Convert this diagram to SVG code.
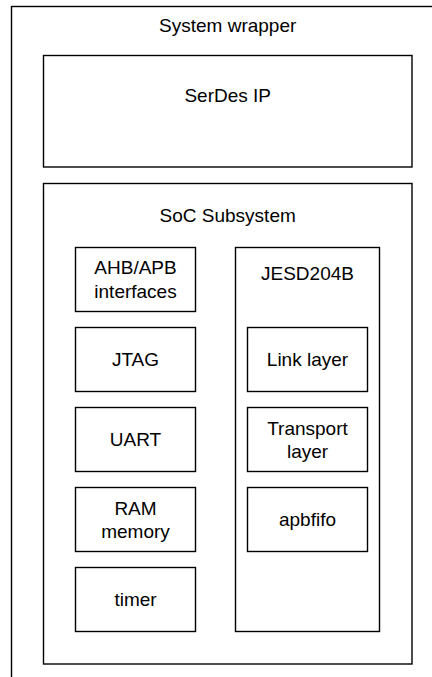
<svg xmlns="http://www.w3.org/2000/svg" width="432" height="677" viewBox="0 0 432 677">
  <style>
    .box { fill: #ffffff; stroke: #000000; stroke-width: 1.4; }
    .lbl { font-family: "Liberation Sans", Arial, sans-serif; font-size: 19px; fill: #000000; text-anchor: middle; }
  </style>
  <rect width="432" height="677" fill="#ffffff"/>

  <!-- outer container, runs off the right and bottom edges -->
  <g id="system-wrapper">
    <rect class="box" x="11.5" y="6.5" width="433" height="720"/>
    <text class="lbl" x="227.7" y="32">System wrapper</text>
  </g>

  <g id="serdes-ip">
    <rect class="box" x="43.5" y="55.5" width="368.5" height="111.5"/>
    <text class="lbl" x="227.7" y="101.5">SerDes IP</text>
  </g>

  <g id="soc-subsystem">
    <rect class="box" x="43.5" y="183.5" width="368.5" height="480.5"/>
    <text class="lbl" x="227.7" y="221.5">SoC Subsystem</text>
  </g>

  <!-- left column of peripherals -->
  <g id="ahb-apb">
    <rect class="box" x="75.5" y="247.5" width="120" height="64"/>
    <text class="lbl" x="135.5" y="274">AHB/APB</text>
    <text class="lbl" x="135.5" y="297.5">interfaces</text>
  </g>
  <g id="jtag">
    <rect class="box" x="75.5" y="327.5" width="120" height="64"/>
    <text class="lbl" x="135.5" y="366">JTAG</text>
  </g>
  <g id="uart">
    <rect class="box" x="75.5" y="407.5" width="120" height="64"/>
    <text class="lbl" x="135.5" y="446">UART</text>
  </g>
  <g id="ram-memory">
    <rect class="box" x="75.5" y="487.5" width="120" height="64"/>
    <text class="lbl" x="135.5" y="514.5">RAM</text>
    <text class="lbl" x="135.5" y="537.5">memory</text>
  </g>
  <g id="timer">
    <rect class="box" x="75.5" y="567.5" width="120" height="64"/>
    <text class="lbl" x="135.5" y="606">timer</text>
  </g>

  <!-- JESD204B block with its layers -->
  <g id="jesd204b">
    <rect class="box" x="235.5" y="247.5" width="144" height="384"/>
    <text class="lbl" x="307.5" y="280">JESD204B</text>
  </g>
  <g id="link-layer">
    <rect class="box" x="247.5" y="327.5" width="120" height="64"/>
    <text class="lbl" x="307.5" y="366">Link layer</text>
  </g>
  <g id="transport-layer">
    <rect class="box" x="247.5" y="407.5" width="120" height="64"/>
    <text class="lbl" x="307.5" y="434.5">Transport</text>
    <text class="lbl" x="307.5" y="457.5">layer</text>
  </g>
  <g id="apbfifo">
    <rect class="box" x="247.5" y="487.5" width="120" height="64"/>
    <text class="lbl" x="307.5" y="526">apbfifo</text>
  </g>

  <g id="connectors"/>
</svg>
